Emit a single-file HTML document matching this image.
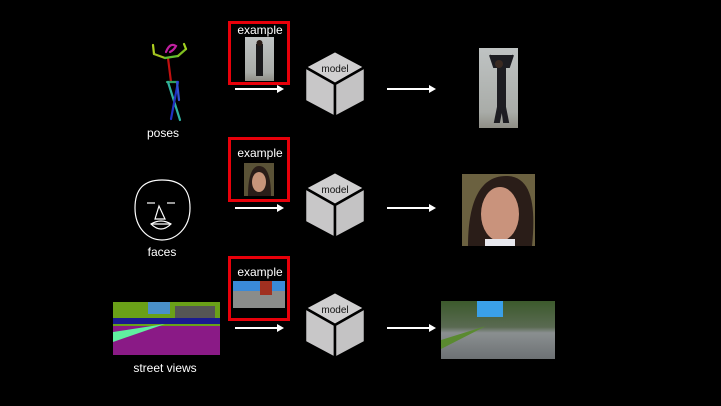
<!DOCTYPE html>
<html><head><meta charset="utf-8"><style>
html,body{margin:0;padding:0;background:#000;}
svg{display:block;font-family:"Liberation Sans",sans-serif;}
</style></head><body>
<svg width="721" height="406" viewBox="0 0 721 406">
<defs>
<linearGradient id="wall" x1="0" y1="0" x2="0" y2="1"><stop offset="0" stop-color="#bfc3c3"/><stop offset="0.8" stop-color="#a9aca8"/><stop offset="1" stop-color="#8f8e86"/></linearGradient>
<linearGradient id="road" x1="0" y1="0" x2="0" y2="1"><stop offset="0" stop-color="#3c5a2c"/><stop offset="0.45" stop-color="#5a6a52"/><stop offset="0.55" stop-color="#8a8f90"/><stop offset="1" stop-color="#6d7174"/></linearGradient>
<g id="cube">
<polygon points="30,0 60,16 30,33 0,16" fill="#d0cfd0" stroke="#000" stroke-width="2.5"/>
<polygon points="0,16 30,33 30,66 0,50" fill="#c8c7c8" stroke="#000" stroke-width="2.5"/>
<polygon points="60,16 30,33 30,66 60,50" fill="#c4c3c4" stroke="#000" stroke-width="2.5"/>
<text x="30" y="21" font-size="10" text-anchor="middle" fill="#111">model</text>
</g>
<g id="arr"><line x1="0" y1="0" x2="43" y2="0" stroke="#fff" stroke-width="2"/><polygon points="42,-4 49,0 42,4" fill="#fff"/></g>
</defs>
<rect width="721" height="406" fill="#000"/>

<!-- row 1 -->
<g stroke-width="2.2" fill="none" stroke-linecap="round">
<line x1="168" y1="58" x2="171" y2="82" stroke="#c01010"/>
<line x1="153" y1="45" x2="154" y2="54" stroke="#b0d020"/>
<line x1="154" y1="54" x2="165" y2="58" stroke="#a0c020"/>
<line x1="165" y1="58" x2="178" y2="56" stroke="#60c030"/>
<line x1="178" y1="56" x2="186" y2="49" stroke="#80c020"/>
<line x1="186" y1="49" x2="184" y2="44" stroke="#a0d020"/>
<path d="M166 52 q4 -10 10 -6 q-2 4 -6 6" stroke="#c020a0"/>
<line x1="167" y1="82" x2="178" y2="82" stroke="#30a060"/>
<line x1="168" y1="82" x2="180" y2="120" stroke="#30b0a0"/>
<line x1="178" y1="82" x2="171" y2="119" stroke="#2030c0"/>
<line x1="177" y1="82" x2="179" y2="100" stroke="#3050d0"/>
</g>
<text x="163" y="137" font-size="12" fill="#fff" text-anchor="middle">poses</text>
<rect x="229.5" y="22.5" width="59" height="61" fill="none" stroke="#e8000a" stroke-width="3"/>
<text x="260" y="34" font-size="12" fill="#fff" text-anchor="middle">example</text>
<rect x="245" y="37" width="29" height="44" fill="url(#wall)"/>
<rect x="256" y="44" width="7" height="32" fill="#1a1a1c"/>
<circle cx="259.5" cy="43" r="3" fill="#2a1d18"/>
<use href="#arr" x="235" y="89"/>
<use href="#cube" x="305" y="51"/>
<use href="#arr" x="387" y="89"/>
<rect x="479" y="48" width="39" height="80" fill="url(#wall)"/>
<path d="M490 55 l4 12 l4 0 l0 40 l-3 15 l4 0 l3 -15 l2 15 l4 0 l-3 -15 l0 -40 l4 0 l4 -12" stroke="#1d1d22" stroke-width="2" fill="#1d1d22"/>
<circle cx="499" cy="64" r="4" fill="#3a2a22"/>

<!-- row 2 -->
<g stroke="#fff" stroke-width="1.2" fill="none">
<path d="M162 180 c18 0 28 8 28 28 c0 20 -14 32 -28 32 c-14 0 -27 -12 -27 -32 c0 -20 10 -28 27 -28z"/>
<line x1="147" y1="203" x2="155" y2="203"/><line x1="167" y1="203" x2="175" y2="203"/>
<path d="M159 206 l-4 13 l10 0 z"/>
<path d="M151 224 q10 -6 20 0 q-10 10 -20 0 z"/><line x1="151" y1="224" x2="171" y2="224"/>
</g>
<text x="162" y="256" font-size="12" fill="#fff" text-anchor="middle">faces</text>
<rect x="229.5" y="138.5" width="59" height="62" fill="none" stroke="#e8000a" stroke-width="3"/>
<text x="260" y="157" font-size="12" fill="#fff" text-anchor="middle">example</text>
<rect x="244" y="163" width="30" height="33" fill="#5a5236"/>
<path d="M248 196 c0 -20 4 -30 11 -30 c8 0 12 10 12 30z" fill="#2a1d18"/>
<ellipse cx="259" cy="182" rx="7" ry="10" fill="#c8957a"/>
<use href="#arr" x="235" y="208"/>
<use href="#cube" x="305" y="172"/>
<use href="#arr" x="387" y="208"/>
<rect x="462" y="174" width="73" height="72" fill="#6b6140"/>
<path d="M468 246 c0 -40 10 -70 38 -70 c26 0 30 30 26 70z" fill="#2a1d18"/>
<ellipse cx="500" cy="214" rx="19" ry="27" fill="#c9937c"/>
<rect x="485" y="239" width="30" height="7" fill="#e8e8ee"/>

<!-- row 3 -->
<rect x="113" y="302" width="107" height="53" fill="#8a1a86"/>
<rect x="113" y="302" width="107" height="24" fill="#6aa018"/>
<rect x="148" y="302" width="22" height="12" fill="#4a90c8"/>
<rect x="175" y="306" width="40" height="12" fill="#555555"/>
<rect x="113" y="318" width="107" height="6" fill="#1a1a90"/>
<polygon points="113,342 165,324 113,332" fill="#60f0a0"/>
<text x="165" y="372" font-size="12" fill="#fff" text-anchor="middle">street views</text>
<rect x="229.5" y="257.5" width="59" height="62" fill="none" stroke="#e8000a" stroke-width="3"/>
<text x="260" y="276" font-size="12" fill="#fff" text-anchor="middle">example</text>
<rect x="233" y="281" width="52" height="27" fill="#8a8c8a"/>
<rect x="233" y="281" width="52" height="10" fill="#3a8ad8"/>
<rect x="260" y="281" width="12" height="14" fill="#a03020"/>
<use href="#arr" x="235" y="328"/>
<use href="#cube" x="305" y="292"/>
<use href="#arr" x="387" y="328"/>
<rect x="441" y="301" width="114" height="58" fill="url(#road)"/>
<rect x="477" y="301" width="26" height="16" fill="#3aa0e8"/>
<polygon points="441,349 486,326 441,340" fill="#5a8a30"/>
</svg>
</body></html>
